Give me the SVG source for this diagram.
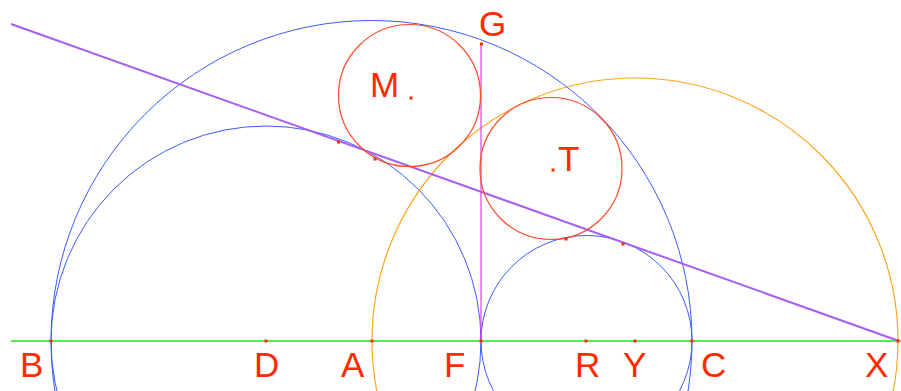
<svg xmlns="http://www.w3.org/2000/svg" width="901" height="391" viewBox="0 0 901 391">
<style>
.blue{fill:none;stroke:#3a5cff;stroke-width:1}
.orange{fill:none;stroke:#ffa61e;stroke-width:1.2}
.red{fill:none;stroke:#ff4a2a;stroke-width:1.2}
.pt{fill:#ff2a00}
.lbl{font-family:"Liberation Sans",Arial,sans-serif;font-size:35px;fill:#ff2a00}
</style>
<rect width="901" height="391" fill="#ffffff"/>
<g id="connectors">
<circle id="bigCircle" class="blue" cx="371.5" cy="341" r="320.5"/>
<circle id="leftCircle" class="blue" cx="266" cy="341" r="215"/>
<circle id="rightCircle" class="blue" cx="586.5" cy="341" r="105.5"/>
<circle id="orangeCircle" class="orange" cx="635" cy="341" r="263"/>
<line x1="11" y1="341" x2="901" y2="341" stroke="#22e022" stroke-width="1.5"/>
<line x1="481" y1="44" x2="481" y2="341" stroke="#e040e0" stroke-width="1.2"/>
<line x1="11" y1="24" x2="899" y2="341" stroke="#a65ef0" stroke-width="2"/>
</g>
<g id="M">
<circle class="red" cx="409.5" cy="95.5" r="71"/>
<rect class="pt" x="409.5" y="96.5" width="3" height="3"/>
<text class="lbl" x="370" y="97">M</text>
</g>
<g id="T">
<circle class="red" cx="551" cy="168.5" r="71"/>
<rect class="pt" x="551.5" y="168.5" width="3" height="3"/>
<text class="lbl" x="558" y="171">T</text>
</g>
<g id="points">
<rect class="pt" x="49.5" y="339.5" width="3" height="3"/>
<rect class="pt" x="264.5" y="339.5" width="3" height="3"/>
<rect class="pt" x="370.5" y="339.5" width="3" height="3"/>
<rect class="pt" x="479.5" y="339.5" width="3" height="3"/>
<rect class="pt" x="584.5" y="339.5" width="3" height="3"/>
<rect class="pt" x="633.5" y="339.5" width="3" height="3"/>
<rect class="pt" x="690.5" y="339.5" width="3" height="3"/>
<rect class="pt" x="896.5" y="339.5" width="3" height="3"/>
<rect class="pt" x="480" y="42.5" width="3" height="3"/>
<rect class="pt" x="337" y="140.5" width="3" height="3"/>
<rect class="pt" x="373.5" y="157.5" width="3" height="3"/>
<rect class="pt" x="564.5" y="237.5" width="3" height="3"/>
<rect class="pt" x="621.5" y="242.5" width="3" height="3"/>
</g>
<g id="labels">
<text class="lbl" x="20" y="377">B</text>
<text class="lbl" x="254" y="377">D</text>
<text class="lbl" x="341" y="377">A</text>
<text class="lbl" x="444" y="377">F</text>
<text class="lbl" x="575" y="377">R</text>
<text class="lbl" x="623" y="377">Y</text>
<text class="lbl" x="701" y="377">C</text>
<text class="lbl" x="865" y="377">X</text>
<text class="lbl" x="479" y="36">G</text>
</g>
</svg>
